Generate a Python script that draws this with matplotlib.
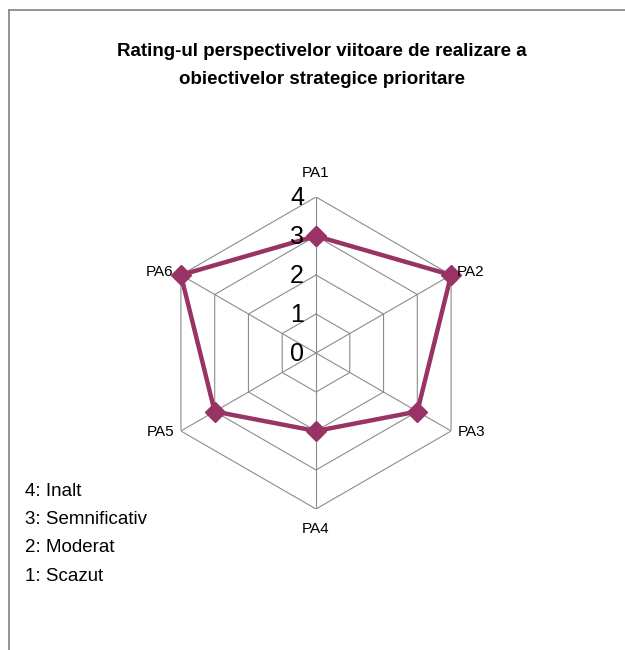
import numpy as np
import matplotlib
matplotlib.use("Agg")
import matplotlib.pyplot as plt
from matplotlib.lines import Line2D

plt.rcParams['font.family'] = ['Liberation Sans', 'DejaVu Sans']

title = "Rating-ul perspectivelor viitoare de realizare a\nobiectivelor strategice prioritare"
categories = ["PA1", "PA2", "PA3", "PA4", "PA5", "PA6"]
values = [3, 4, 3, 2, 3, 4]
rticks = [0, 1, 2, 3, 4]
legend_lines = ["4: Inalt", "3: Semnificativ", "2: Moderat", "1: Scazut"]

color = "#993366"
W, H = 625, 650
fig = plt.figure(figsize=(W / 100, H / 100), dpi=100)

cx, cy, R = 316, 353, 156
ax = fig.add_axes([(cx - R) / W, (H - cy - R) / H, 2 * R / W, 2 * R / H], projection='polar')
ax.set_theta_offset(np.pi / 2)
ax.set_theta_direction(-1)
ax.set_ylim(0, 4)
ax.grid(False)
ax.spines['polar'].set_visible(False)
ax.set_xticks([])
ax.set_yticks([])
ax.patch.set_alpha(0)

n = len(categories)
angles = np.arange(n) * 2 * np.pi / n
closed = np.append(angles, angles[0])

for r in rticks[1:]:
    ax.plot(closed, [r] * (n + 1), color="#8c8c8c", lw=0.8, zorder=1)
for a in angles:
    ax.plot([a, a], [0, 4], color="#8c8c8c", lw=0.8, zorder=1)

ax.plot(closed, values + [values[0]], color=color, lw=3.2, zorder=3,
        marker='D', markersize=10, clip_on=False)

px = 0.72  # points per pixel
for r in rticks:
    ax.annotate(str(r), xy=(0, r), xytext=(-12 * px, -1 * px), textcoords='offset points',
                fontsize=18, ha='right', va='center', zorder=4, annotation_clip=False)

# category labels
lab_pos = {
    "PA1": (0, 4.0, 'center', 'center', 0, 24),
    "PA2": (60, 4.0, 'left', 'center', 6, 3),
    "PA3": (120, 4.0, 'left', 'center', 7, -1),
    "PA4": (180, 4.0, 'center', 'center', 0, -20),
    "PA5": (240, 4.0, 'right', 'center', -7, -1),
    "PA6": (300, 4.0, 'right', 'center', -8, 3),
}
for c in categories:
    deg, r, ha, va, dx, dy = lab_pos[c]
    ax.annotate(c, xy=(np.deg2rad(deg), r), xytext=(dx * px, dy * px),
                textcoords='offset points', ha=ha, va=va, fontsize=11,
                annotation_clip=False)

fig.text(322 / W, 1 - 52 / H, title.split("\n")[0], ha='center', va='center', fontsize=13.5,
         fontweight='bold')
fig.text(322 / W, 1 - 80 / H, title.split("\n")[1], ha='center', va='center', fontsize=13.5,
         fontweight='bold')

for i, t in enumerate(legend_lines):
    fig.text(25 / W, 1 - (491 + 28.5 * i) / H, t, ha='left', va='center', fontsize=13.5)

# outer frame
fig.add_artist(Line2D([9 / W, 9 / W], [0, 1 - 10 / H], color="#808080", lw=1.2,
                      transform=fig.transFigure))
fig.add_artist(Line2D([9 / W, 1], [1 - 10 / H, 1 - 10 / H], color="#808080", lw=1.2,
                      transform=fig.transFigure))

fig.savefig("out.png", dpi=100)
